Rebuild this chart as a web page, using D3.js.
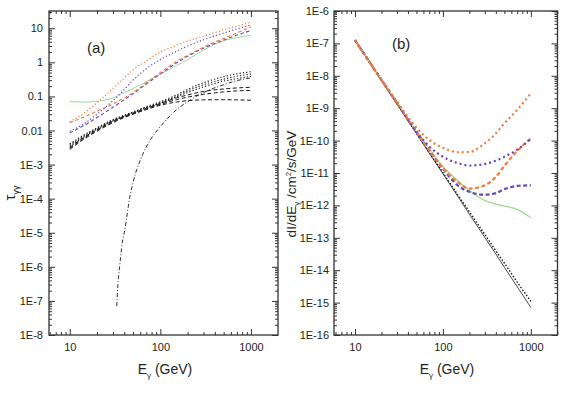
<!DOCTYPE html>
<html>
<head>
<meta charset="utf-8">
<script src="https://cdn.jsdelivr.net/npm/d3@7"></script>
<style>
  body { margin: 0; background: #fff; }
  text { font-family: "Liberation Sans", Arial, sans-serif; fill: #231f20; }
</style>
</head>
<body>
<svg id="chart" width="566" height="394"></svg>
<script>
// ---- panel (a): tau_gg vs E_gamma ----
const energyA = [10, 15, 20, 30, 40, 50, 70, 100, 150, 200, 300, 500, 700, 1000];
const tauOrangeDot  = [0.018, 0.035, 0.065, 0.17, 0.35, 0.6, 1.1, 2.0, 3.1, 4.2, 5.8, 9.0, 11.5, 15];
const tauPurpleDot  = [0.0095, 0.017, 0.03, 0.075, 0.16, 0.3, 0.65, 1.2, 2.1, 3.0, 4.6, 7.2, 9.5, 12.5];
const tauOrangeDash = [0.017, 0.026, 0.037, 0.06, 0.09, 0.13, 0.25, 0.5, 1.05, 1.6, 2.8, 5.0, 7.3, 11];
const tauPurpleDash = [0.0085, 0.015, 0.024, 0.048, 0.08, 0.12, 0.23, 0.45, 0.95, 1.5, 2.6, 4.5, 6.3, 8.5];
const tauGreen      = [0.07, 0.068, 0.072, 0.09, 0.13, 0.17, 0.27, 0.45, 0.8, 1.2, 2.3, 4.3, 5.3, 6.2];
const tauBlackDot1  = [0.004, 0.008, 0.012, 0.021, 0.028, 0.035, 0.05, 0.07, 0.11, 0.16, 0.25, 0.38, 0.46, 0.53];
const tauBlackDot2  = [0.0037, 0.0075, 0.0115, 0.02, 0.027, 0.034, 0.048, 0.066, 0.1, 0.145, 0.22, 0.32, 0.39, 0.45];
const tauBlackDot3  = [0.0034, 0.007, 0.011, 0.019, 0.026, 0.033, 0.046, 0.063, 0.095, 0.13, 0.19, 0.28, 0.33, 0.39];
const tauBlackDash1 = [0.0032, 0.0068, 0.0105, 0.019, 0.026, 0.032, 0.045, 0.062, 0.09, 0.11, 0.14, 0.165, 0.177, 0.185];
const tauBlackDash2 = [0.003, 0.0064, 0.01, 0.018, 0.025, 0.031, 0.043, 0.058, 0.08, 0.095, 0.115, 0.135, 0.145, 0.15];
const tauBlackDash3 = [0.0028, 0.006, 0.0095, 0.017, 0.024, 0.03, 0.041, 0.055, 0.068, 0.075, 0.079, 0.08, 0.079, 0.077];
const energyDashDot = [33, 34, 35.5, 38, 40.5, 46, 50, 64, 80, 100, 150, 200, 300, 500, 700, 1000];
const tauDashDot    = [7e-8, 3e-7, 1e-6, 5e-6, 1.2e-5, 1.1e-4, 3e-4, 2e-3, 6e-3, 0.013, 0.04, 0.07, 0.13, 0.22, 0.29, 0.35];

// ---- panel (b): log10 of dI/dE vs E_gamma ----
const energyB = [10, 20, 30, 50, 70, 100, 150, 200, 300, 400, 500, 700, 1000];
const fluxBlackSolid = [-6.90, -8.14, -8.87, -9.78, -10.39, -11.02, -11.75, -12.27, -12.99, -13.50, -13.91, -14.51, -15.15];
const fluxBlackDot   = [-6.90, -8.14, -8.86, -9.77, -10.37, -10.99, -11.70, -12.20, -12.90, -13.40, -13.78, -14.37, -14.96];
const fluxOrangeDot  = [-6.90, -8.12, -8.80, -9.60, -9.98, -10.22, -10.36, -10.35, -10.08, -9.78, -9.47, -9.05, -8.54];
const fluxPurpleDot  = [-6.90, -8.12, -8.82, -9.72, -10.18, -10.50, -10.70, -10.77, -10.72, -10.62, -10.50, -10.28, -9.95];
const fluxOrangeDash = [-6.90, -8.13, -8.84, -9.74, -10.30, -10.85, -11.30, -11.48, -11.38, -11.12, -10.78, -10.32, -9.93];
const fluxPurpleDash = [-6.90, -8.13, -8.84, -9.74, -10.30, -10.87, -11.40, -11.58, -11.67, -11.62, -11.50, -11.40, -11.38];
const fluxGreen      = [-6.90, -8.12, -8.82, -9.72, -10.25, -10.80, -11.25, -11.55, -11.85, -11.96, -12.02, -12.12, -12.38];

// ---- ticks ----
const xTickValues = [10, 100, 1000];
const xTickLabels = ['10', '100', '1000'];
const yTickValuesA = [10, 1, 0.1, 0.01, 1e-3, 1e-4, 1e-5, 1e-6, 1e-7, 1e-8];
const yTickLabelsA = ['10', '1', '0.1', '0.01', '1E-3', '1E-4', '1E-5', '1E-6', '1E-7', '1E-8'];
const yTickValuesB = [1e-6, 1e-7, 1e-8, 1e-9, 1e-10, 1e-11, 1e-12, 1e-13, 1e-14, 1e-15, 1e-16];
const yTickLabelsB = ['1E-6', '1E-7', '1E-8', '1E-9', '1E-10', '1E-11', '1E-12', '1E-13', '1E-14', '1E-15', '1E-16'];

const orange = '#f47a3c', purple = '#6548c2', green = '#9fd996', black = '#1a1a1a';

const svg = d3.select('#chart');
svg.append('rect').attr('width', 566).attr('height', 394).attr('fill', '#fff');

function minorTicks(lo, hi) {
  let out = [];
  for (let e = Math.floor(Math.log10(lo)); e <= Math.ceil(Math.log10(hi)); e++) {
    for (let m = 2; m <= 9; m++) {
      let v = m * Math.pow(10, e);
      if (v > lo && v < hi) out.push(v);
    }
  }
  return out;
}

function drawFrame(x, y, xLabels, yVals, yLabels, yPad) {
  const [x0, x1] = x.range(), [y0, y1] = y.range();
  const g = svg.append('g');
  const fmtX = (d, i) => xLabels[i];
  const fmtY = (d, i) => yLabels[i];
  const xMinor = minorTicks(x.domain()[0], x.domain()[1]);
  const yMinor = minorTicks(y.domain()[0], y.domain()[1]);

  // bottom
  g.append('g').attr('transform', `translate(0,${y0})`)
    .call(d3.axisBottom(x).tickValues(xTickValues).tickFormat(fmtX).tickSizeInner(-6).tickSizeOuter(0).tickPadding(8));
  g.append('g').attr('transform', `translate(0,${y0})`)
    .call(d3.axisBottom(x).tickValues(xMinor).tickFormat('').tickSizeInner(-3).tickSizeOuter(0));
  // top
  g.append('g').attr('transform', `translate(0,${y1})`)
    .call(d3.axisTop(x).tickValues(xTickValues).tickFormat('').tickSizeInner(-6).tickSizeOuter(0));
  g.append('g').attr('transform', `translate(0,${y1})`)
    .call(d3.axisTop(x).tickValues(xMinor).tickFormat('').tickSizeInner(-3).tickSizeOuter(0));
  // left
  g.append('g').attr('transform', `translate(${x0},0)`)
    .call(d3.axisLeft(y).tickValues(yVals).tickFormat(fmtY).tickSizeInner(-6).tickSizeOuter(0).tickPadding(yPad));
  g.append('g').attr('transform', `translate(${x0},0)`)
    .call(d3.axisLeft(y).tickValues(yMinor).tickFormat('').tickSizeInner(-3).tickSizeOuter(0));
  // right
  g.append('g').attr('transform', `translate(${x1},0)`)
    .call(d3.axisRight(y).tickValues(yVals).tickFormat('').tickSizeInner(-6).tickSizeOuter(0));
  g.append('g').attr('transform', `translate(${x1},0)`)
    .call(d3.axisRight(y).tickValues(yMinor).tickFormat('').tickSizeInner(-3).tickSizeOuter(0));

  g.selectAll('.domain').remove();
  g.selectAll('.tick line').attr('stroke', '#333').attr('stroke-width', 1);
  g.selectAll('.tick text').attr('font-size', 11).attr('fill', '#231f20')
    .style('font-family', '"Liberation Sans", Arial, sans-serif');

  g.append('rect')
    .attr('x', x0).attr('y', y1)
    .attr('width', x1 - x0).attr('height', y0 - y1)
    .attr('fill', 'none').attr('stroke', '#333').attr('stroke-width', 1.3);
}

function drawCurve(x, y, xs, ys, color, dash, width) {
  const line = d3.line()
    .x(d => x(d[0]))
    .y(d => y(d[1]))
    .curve(d3.curveMonotoneX);
  svg.append('path')
    .datum(d3.zip(xs, ys))
    .attr('d', line)
    .attr('fill', 'none')
    .attr('stroke', color)
    .attr('stroke-width', width)
    .attr('stroke-dasharray', dash);
}

function xTitle(cx) {
  const t = svg.append('text').attr('x', cx).attr('y', 374)
    .attr('text-anchor', 'middle').attr('font-size', 14);
  t.append('tspan').text('E');
  t.append('tspan').attr('font-size', 8).attr('dy', 4).text('γ');
  t.append('tspan').attr('dy', -4).text(' (GeV)');
}

// ===== panel (a) =====
const xA = d3.scaleLog().domain([5.9, 1990]).range([49, 278]);
const yA = d3.scaleLog().domain([1e-8, 32]).range([335, 11]);

drawFrame(xA, yA, xTickLabels, yTickValuesA, yTickLabelsA, 6);

const dashA = '4,2.5', dotA = '1.2,2.2', dotBlk = '1.3,2';
drawCurve(xA, yA, energyA, tauBlackDash3, black, dashA, 1);
drawCurve(xA, yA, energyA, tauBlackDash2, black, dashA, 1);
drawCurve(xA, yA, energyA, tauBlackDash1, black, dashA, 1);
drawCurve(xA, yA, energyA, tauBlackDot3, black, dotBlk, 1.1);
drawCurve(xA, yA, energyA, tauBlackDot2, black, dotBlk, 1.1);
drawCurve(xA, yA, energyA, tauBlackDot1, black, dotBlk, 1.1);
drawCurve(xA, yA, energyDashDot, tauDashDot, black, '4,2,1,2', 0.9);
drawCurve(xA, yA, energyA, tauGreen, green, null, 1);
drawCurve(xA, yA, energyA, tauPurpleDash, purple, '3.5,2.5', 1.1);
drawCurve(xA, yA, energyA, tauOrangeDash, orange, '3.5,2.5', 1.1);
drawCurve(xA, yA, energyA, tauPurpleDot, purple, dotA, 1.2);
drawCurve(xA, yA, energyA, tauOrangeDot, orange, dotA, 1.2);

svg.append('text').attr('x', 87).attr('y', 53).attr('font-size', 15).text('(a)');
xTitle(165);

const tA = svg.append('text').attr('transform', 'translate(15,193) rotate(-90)')
  .attr('text-anchor', 'middle').attr('font-size', 15);
tA.append('tspan').text('τ');
tA.append('tspan').attr('font-size', 9).attr('dy', 4).text('γγ');

// ===== panel (b) =====
const xB = d3.scaleLog().domain([5.77, 2010]).range([334, 557.5]);
const yB = d3.scaleLog().domain([1e-16, 1e-6]).range([335, 11]);

drawFrame(xB, yB, xTickLabels, yTickValuesB, yTickLabelsB, 5);

const toFlux = a => a.map(v => Math.pow(10, v));
drawCurve(xB, yB, energyB, toFlux(fluxBlackSolid), black, null, 0.8);
drawCurve(xB, yB, energyB, toFlux(fluxBlackDot), black, '1.5,1.8', 1.4);
drawCurve(xB, yB, energyB, toFlux(fluxGreen), green, null, 1.3);
drawCurve(xB, yB, energyB, toFlux(fluxPurpleDash), purple, '4,2.5', 2.2);
drawCurve(xB, yB, energyB, toFlux(fluxOrangeDash), orange, '4,2.5', 2.2);
drawCurve(xB, yB, energyB, toFlux(fluxPurpleDot), purple, '2,3', 2.2);
drawCurve(xB, yB, energyB, toFlux(fluxOrangeDot), orange, '2,3', 2.2);

svg.append('text').attr('x', 392).attr('y', 49).attr('font-size', 15).text('(b)');
xTitle(447);

const tB = svg.append('text').attr('transform', 'translate(296,184) rotate(-90)')
  .attr('text-anchor', 'middle').attr('font-size', 13.5);
tB.append('tspan').text('dI/dE');
tB.append('tspan').attr('font-size', 8).attr('dy', 3).text('γ');
tB.append('tspan').attr('dy', -3).text(' /cm');
tB.append('tspan').attr('font-size', 8).attr('dy', -5).text('2');
tB.append('tspan').attr('dy', 5).text('/s/GeV');
</script>
</body>
</html>
